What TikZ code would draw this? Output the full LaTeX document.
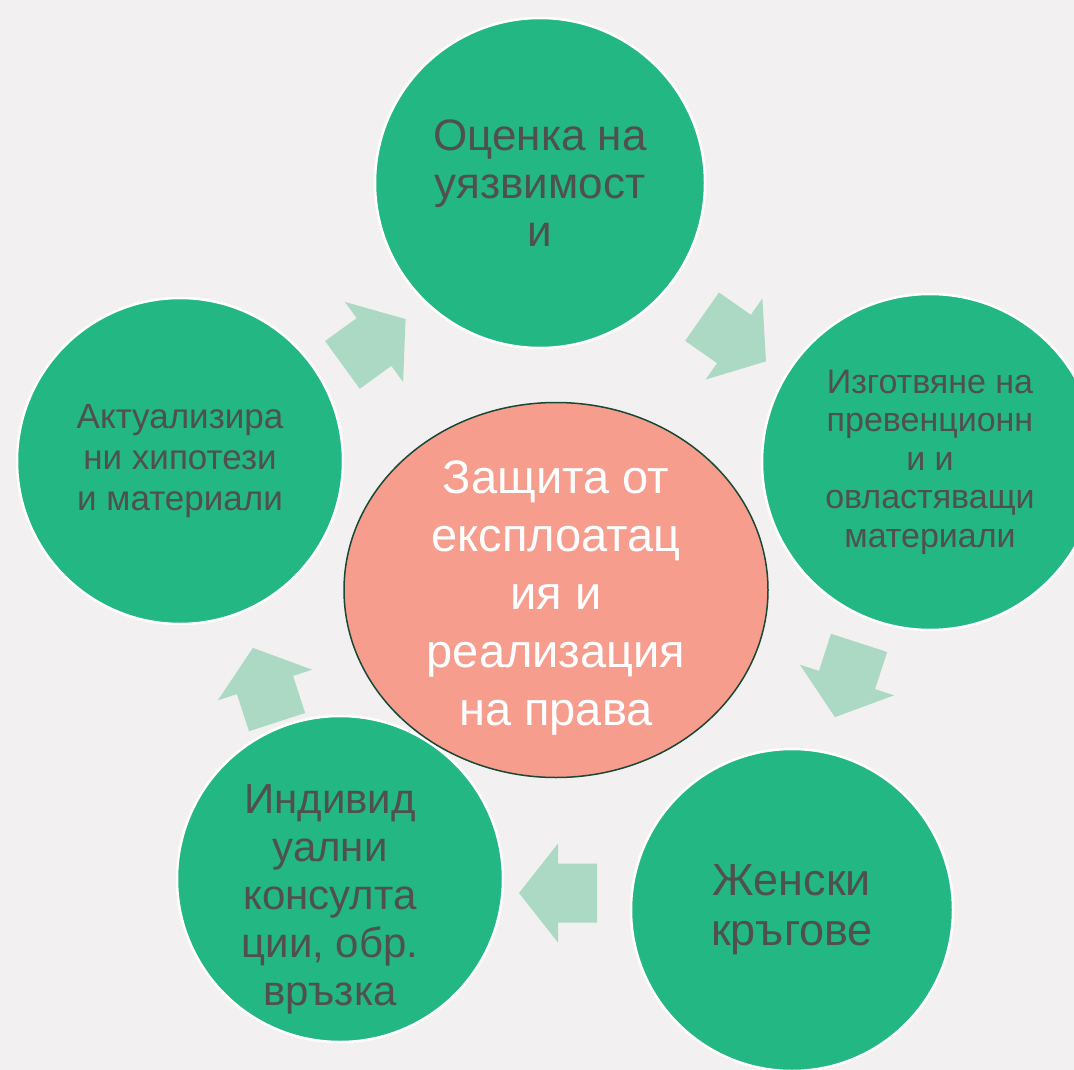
\documentclass[tikz,border=0pt]{standalone}
\usepackage{fontspec}
\setmainfont{Liberation Sans}
\usetikzlibrary{shapes.geometric}
\definecolor{slidebg}{RGB}{242,240,241}
\definecolor{stagegreen}{RGB}{34,183,131}
\definecolor{arrowgreen}{RGB}{171,217,196}
\definecolor{hubred}{RGB}{247,157,142}
\definecolor{hubedge}{RGB}{25,72,52}
\definecolor{labelgray}{RGB}{80,80,80}
\tikzset{stage/.style={circle, draw=white, line width=2.5pt, fill=stagegreen, text=labelgray, align=center, inner sep=0pt}}
\tikzset{hub/.style={ellipse, draw=hubedge, line width=1.5pt, fill=hubred, minimum width=424pt, minimum height=375pt, inner sep=0pt}}
\tikzset{pics/cyclearrow/.style={code={
    \fill[arrowgreen] (-39,-29.5) -- (0,-29.5) -- (0,-49.5) -- (39,0) -- (0,49.5) -- (0,29.5) -- (-39,29.5) -- cycle;}}}

\begin{document}
\begin{tikzpicture}[x=1pt, y=-1pt]
    \fill[slidebg] (0,0) rectangle (1074,1070);
    \useasboundingbox (0,0) rectangle (1074,1070);
    \clip (0,0) rectangle (1074,1070);

    \node[stage, minimum size=330pt, font=\fontsize{44}{48}\selectfont] (assess) at (540,183) {Оценка на\\уязвимост\\и};
    \node[stage, minimum size=336pt, font=\fontsize{34}{38.5}\selectfont] (prepare) at (930,462) {Изготвяне на\\превенционн\\и и\\овластяващи\\материали};
    \node[stage, minimum size=322pt, font=\fontsize{45}{50}\selectfont] (circles) at (792,910) {Женски\\кръгове};
    \node[stage, minimum size=326pt] (consult) at (340,879) {};
    \node[text=labelgray, align=center, font=\fontsize{42}{48}\selectfont, xshift=-10pt, yshift=-20pt] (consulttext) at (consult.center) {Индивид\\уални\\консулта\\ции, обр.\\връзка};
    \node[stage, minimum size=326pt, font=\fontsize{35}{41}\selectfont] (update) at (180,461) {Актуализира\\ни хипотези\\и материали};

    \node[hub] (hub) at (556,590) {};
    \node[text=white, align=center, font=\fontsize{47}{58}\selectfont, yshift=-8pt] (hubtext) at (hub.center) {Защита от\\експлоатац\\ия и\\реализация\\на права};

    % arrows round the cycle
    \pic[rotate=36] at (374,342) {cyclearrow};
    \pic[rotate=-35] at (734,339) {cyclearrow};
    \pic[rotate=-108] at (847,680) {cyclearrow};
    \pic[rotate=180] at (558,893) {cyclearrow};
    \pic[rotate=108] at (265,685) {cyclearrow};
\end{tikzpicture}
\end{document}
